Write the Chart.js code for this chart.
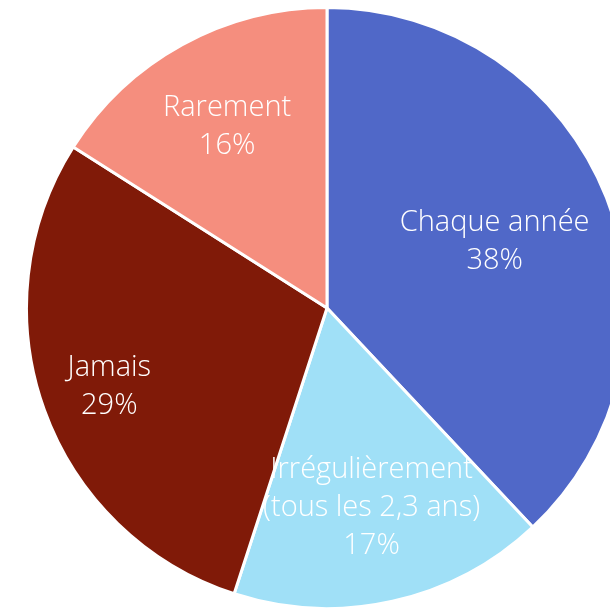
<!DOCTYPE html>
<html lang="fr">

<head>
    <meta charset="UTF-8">
    <title>Fréquence</title>
    <script src="https://cdn.jsdelivr.net/npm/chart.js"></script>
    <style>
        html, body { margin: 0; padding: 0; background: #fff; overflow: hidden; width: 610px; height: 609px; }
        #wrap { position: absolute; left: 25px; top: 6px; width: 604px; height: 604px; }
    </style>
</head>

<body>
    <div id="wrap"><canvas id="pieChart" width="604" height="604"></canvas></div>

    <script>
        // données
        const categories = [["Chaque année"], ["Irrégulièrement", "(tous les 2,3 ans)"], ["Jamais"], ["Rarement"]];
        const valeurs = [38, 17, 29, 16];
        const couleurs = ["#5068C8", "#A0E0F7", "#801A08", "#F58E7E"];

        // distance du texte depuis le centre (fraction du rayon)
        const labelDist = [0.6, 0.68, 0.77, 0.69];

        const labelPlugin = {
            id: 'sliceLabels',
            afterDatasetsDraw(chart) {
                const ctx = chart.ctx;
                const meta = chart.getDatasetMeta(0);
                ctx.save();
                ctx.fillStyle = '#fff';
                ctx.font = '300 29px "Open Sans"';
                ctx.textAlign = 'center';
                ctx.textBaseline = 'middle';
                const lh = 38;
                meta.data.forEach((arc, i) => {
                    const p = arc.getProps(['x', 'y', 'startAngle', 'endAngle', 'outerRadius']);
                    const mid = (p.startAngle + p.endAngle) / 2;
                    const r = p.outerRadius * labelDist[i];
                    const cx = p.x + Math.cos(mid) * r;
                    const cy = p.y + Math.sin(mid) * r;
                    const lines = categories[i].concat([valeurs[i] + '%']);
                    const y0 = cy - (lines.length - 1) * lh / 2;
                    lines.forEach((t, k) => ctx.fillText(t, cx, y0 + k * lh));
                });
                ctx.restore();
            }
        };

        new Chart(document.getElementById('pieChart').getContext('2d'), {
            type: 'pie',
            data: {
                labels: categories.map(c => c.join(' ')),
                datasets: [{
                    data: valeurs,
                    backgroundColor: couleurs,
                    borderColor: '#fff',
                    borderWidth: 3
                }]
            },
            options: {
                responsive: false,
                animation: false,
                layout: { padding: 0 },
                plugins: {
                    legend: { display: false },
                    tooltip: { enabled: false }
                }
            },
            plugins: [labelPlugin]
        });
    </script>
</body>

</html>
